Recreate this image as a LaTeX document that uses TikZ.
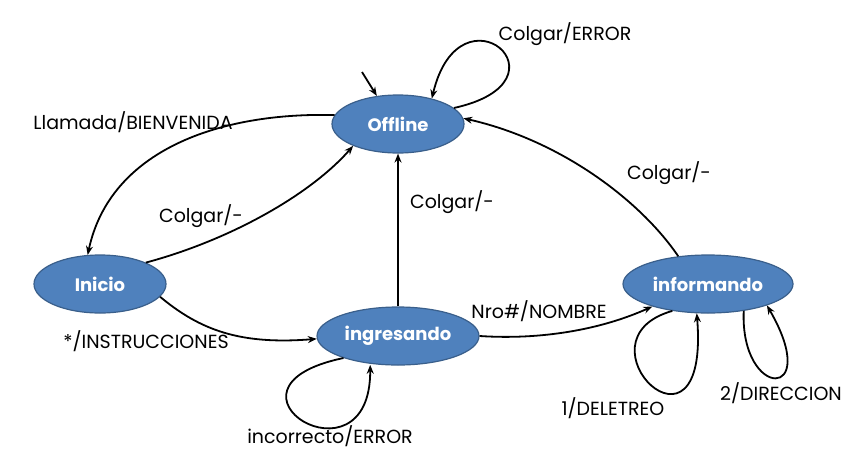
\documentclass[tikz,border=0pt]{standalone}
\usepackage{fontspec}
\setmainfont{Poppins}
\usetikzlibrary{arrows.meta,shapes.geometric}
\definecolor{stfill}{HTML}{4F81BD}
\definecolor{stdraw}{HTML}{3A5F8B}
\tikzset{
  state/.style={ellipse,fill=stfill,draw=stdraw,line width=1.2pt,text=white,
    font=\fontsize{18}{21}\selectfont\bfseries,minimum height=58pt,inner sep=0pt},
  lbl/.style={font=\fontsize{19}{22}\selectfont,inner sep=0pt,text=black},
  tr/.style={draw=black,line width=1.8pt,-{Stealth[length=9pt,width=7pt,inset=3pt]}}
}
\begin{document}
\begin{tikzpicture}[x=1pt,y=-1pt]
\useasboundingbox (0,0) rectangle (866,461);
\node[state,minimum width=132pt] (off) at (398,124) {Offline};
\node[state,minimum width=132pt] (ini) at (100,284) {Inicio};
\node[state,minimum width=162pt] (ing) at (398,336) {ingresando};
\node[state,minimum width=170pt] (inf) at (708,284) {informando};
\coordinate (init) at (362,72);
% labels
\node[lbl] (l1) at (565,34) {Colgar/ERROR};
\node[lbl] (l2) at (133,122) {Llamada/BIENVENIDA};
\node[lbl] (l3) at (201,216) {Colgar/-};
\node[lbl] (l4) at (146,341) {*/INSTRUCCIONES};
\node[lbl] (l5) at (452,202) {Colgar/-};
\node[lbl] (l6) at (330,436) {incorrecto/ERROR};
\node[lbl] (l7) at (539,311) {Nro\#/NOMBRE};
\node[lbl] (l8) at (669,173) {Colgar/-};
\node[lbl] (l9) at (613,408) {1/DELETREO};
\node[lbl] (l10) at (781,393) {2/DIRECCION};
% transitions
\draw[tr] (init) -- (off.127);
\draw[tr] (off.16) .. controls (577,81) and (460,-20) .. (off.37);
\draw[tr] (off.172) .. controls (220,112) and (110,150) .. (ini.113);
\draw[tr] (ini.25) .. controls (230,240) and (310,195) .. (off.206);
\draw[tr] (ini.-12) .. controls (200,330) and (240,345) .. (ing.182);
\draw[tr] (ing.north) -- (off.south);
\draw[tr,shorten >=1pt] (ing.202) .. controls (200,388) and (371,493) .. (ing.225);
\draw[tr] (ing.east) .. controls (540,340) and (600,330) .. (inf.202);
\draw[tr] (inf.137) .. controls (640,200) and (560,140) .. (off.5);
\draw[tr] (inf.217) .. controls (570,340) and (710,478) .. (inf.249);
\draw[tr] (inf.323) .. controls (740,400) and (823,402) .. (inf.340);
\end{tikzpicture}
\end{document}
